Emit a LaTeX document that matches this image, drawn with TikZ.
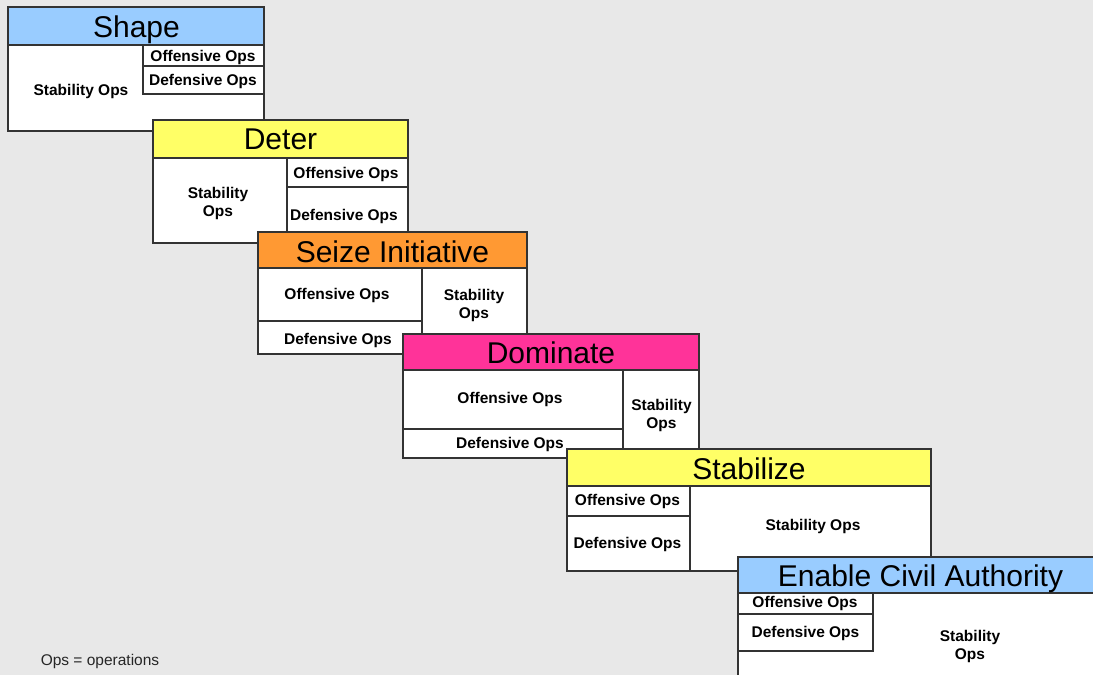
\documentclass[tikz,border=0pt]{standalone}
\usepackage{fontspec}
\setmainfont{Liberation Sans}
\definecolor{bg}{RGB}{232,232,232}
\definecolor{cblue}{RGB}{153,204,255}
\definecolor{cyellow}{RGB}{255,255,102}
\definecolor{corange}{RGB}{255,153,51}
\definecolor{cpink}{RGB}{255,51,153}
\tikzset{
 cell/.style={draw=black!80, line width=1.2pt, fill=white, anchor=north west, inner sep=0pt, outer sep=0pt},
 ttltext/.style={anchor=base, inner sep=0pt, font=\fontsize{30}{30}\selectfont},
 lbl/.style={inner sep=0pt, align=center, font=\bfseries\fontsize{15.5}{18}\selectfont},
 note/.style={inner sep=0pt, text=black!85, font=\fontsize{15.5}{18}\selectfont},
}
\begin{document}
\begin{tikzpicture}[x=1pt,y=-1pt]
\path[use as bounding box, fill=bg] (0,0) rectangle (1093,675);
\clip (0,0) rectangle (1093,675);
% Shape
\node[cell, fill=cblue, minimum width=256, minimum height=38] (shT) at (8,7) {};
\node[cell, minimum width=256, minimum height=86] (shB) at (8,45) {};
\node[cell, minimum width=121, minimum height=21] (shO) at (143,45) {};
\node[cell, minimum width=121, minimum height=28] (shD) at (143,66) {};
\node[ttltext] (shTt) at (136.5,37.3) {Shape};
\node[lbl] (shOl) at (203,57.5) {Offensive Ops};
\node[lbl] (shDl) at (203,81) {Defensive Ops};
\node[lbl] (shSl) at (81,91) {Stability Ops};
% Deter
\node[cell, fill=cyellow, minimum width=255, minimum height=38] (deT) at (153,120) {};
\node[cell, minimum width=255, minimum height=85] (deB) at (153,158) {};
\node[cell, minimum width=121, minimum height=29] (deO) at (287,158) {};
\node[cell, minimum width=121, minimum height=56] (deD) at (287,187) {};
\node[ttltext] (deTt) at (280.5,149) {Deter};
\node[lbl] (deSl) at (218,203) {Stability\\Ops};
\node[lbl] (deOl) at (346,174.5) {Offensive Ops};
\node[lbl] (deDl) at (344,216) {Defensive Ops};
% Seize Initiative
\node[cell, fill=corange, minimum width=269, minimum height=36] (seT) at (258,232) {};
\node[cell, minimum width=269, minimum height=86] (seB) at (258,268) {};
\node[cell, minimum width=164, minimum height=53] (seO) at (258,268) {};
\node[cell, minimum width=164, minimum height=33] (seD) at (258,321) {};
\node[ttltext] (seTt) at (392.5,262) {Seize Initiative};
\node[lbl] (seOl) at (337,295) {Offensive Ops};
\node[lbl] (seDl) at (338,340.5) {Defensive Ops};
\node[lbl] (seSl) at (474,305) {Stability\\Ops};
% Dominate
\node[cell, fill=cpink, minimum width=296, minimum height=36] (doT) at (403,334) {};
\node[cell, minimum width=296, minimum height=88] (doB) at (403,370) {};
\node[cell, minimum width=220, minimum height=59] (doO) at (403,370) {};
\node[cell, minimum width=220, minimum height=29] (doD) at (403,429) {};
\node[ttltext] (doTt) at (551,363) {Dominate};
\node[lbl] (doOl) at (510,399) {Offensive Ops};
\node[lbl] (doDl) at (510,444.5) {Defensive Ops};
\node[lbl] (doSl) at (661.5,415) {Stability\\Ops};
% Stabilize
\node[cell, fill=cyellow, minimum width=364, minimum height=37] (stT) at (567,449) {};
\node[cell, minimum width=364, minimum height=85] (stB) at (567,486) {};
\node[cell, minimum width=123, minimum height=30] (stO) at (567,486) {};
\node[cell, minimum width=123, minimum height=55] (stD) at (567,516) {};
\node[ttltext] (stTt) at (749,479) {Stabilize};
\node[lbl] (stOl) at (627.5,501.7) {Offensive Ops};
\node[lbl] (stDl) at (627.5,544.7) {Defensive Ops};
\node[lbl] (stSl) at (813,526) {Stability Ops};
% Enable Civil Authority
\node[cell, fill=cblue, minimum width=365, minimum height=36] (enT) at (738,557) {};
\node[cell, minimum width=365, minimum height=110] (enB) at (738,593) {};
\node[cell, minimum width=135, minimum height=21] (enO) at (738,593) {};
\node[cell, minimum width=135, minimum height=37] (enD) at (738,614) {};
\node[ttltext] (enTt) at (920.5,586.5) {Enable Civil Authority};
\node[lbl] (enOl) at (805,603.3) {Offensive Ops};
\node[lbl] (enDl) at (805.5,633.3) {Defensive Ops};
\node[lbl] (enSl) at (970,646.7) {Stability\\Ops};
% footnote
\node[note] (fn) at (100,661) {Ops = operations};
\end{tikzpicture}
\end{document}
